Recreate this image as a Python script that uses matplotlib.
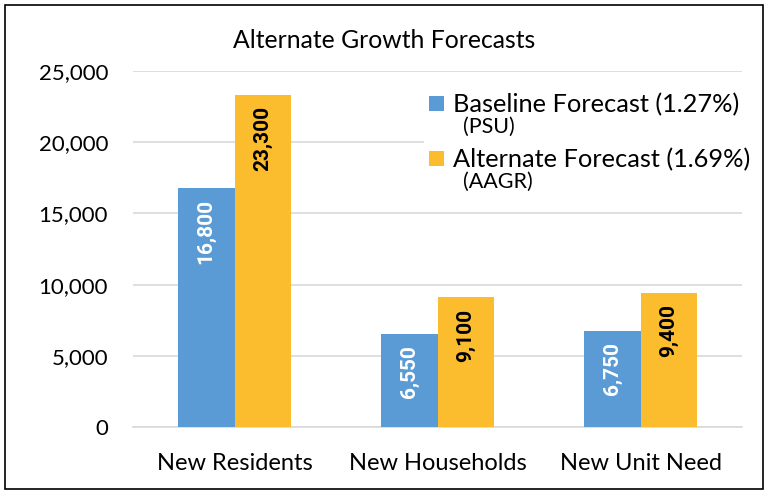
import matplotlib
matplotlib.use("Agg")
import matplotlib.pyplot as plt
from matplotlib.patches import Rectangle
from matplotlib.transforms import offset_copy
import numpy as np

categories = ["New Residents", "New Households", "New Unit Need"]
baseline = [16800, 6550, 6750]
alternate = [23300, 9100, 9400]
baseline_label = "Baseline Forecast (1.27%)"
baseline_sub = "(PSU)"
alternate_label = "Alternate Forecast (1.69%)"
alternate_sub = "(AAGR)"
title = "Alternate Growth Forecasts"

plt.rcParams['font.family'] = ['Lato', 'DejaVu Sans']

BLUE = "#5B9BD5"
GOLD = "#FBBC2D"

fig = plt.figure(figsize=(7.7, 4.97), dpi=100)
fig.patch.set_facecolor("white")
# outer border
fig.add_artist(Rectangle((5/770, 1-489/497), 758/770, 484/497, transform=fig.transFigure,
                         fill=False, edgecolor="black", linewidth=1.2))

ax = fig.add_axes([133/770, 1-427/497, (742-133)/770, (427-71)/497])
x = np.arange(len(categories))
w = 0.28
b1 = ax.bar(x - w/2, baseline, w, color=BLUE, label=baseline_label, zorder=3)
b2 = ax.bar(x + w/2, alternate, w, color=GOLD, label=alternate_label, zorder=3)

ax.set_xlim(-0.5, 2.5)
ax.set_ylim(0, 25000)
ax.set_yticks(np.arange(0, 25001, 5000))
ax.set_yticklabels([f"{v:,}" for v in range(0, 25001, 5000)], fontsize=16)
ax.set_xticks(x)
ax.set_xticklabels(categories, fontsize=17)
ax.tick_params(axis='both', length=0)
ax.tick_params(axis='y', pad=18)
ax.tick_params(axis='x', pad=19)
ax.grid(axis='y', color="#D9D9D9", linewidth=1.2, zorder=0)
for s in ["top", "right", "left"]:
    ax.spines[s].set_visible(False)
ax.spines["bottom"].set_color("#D9D9D9")
ax.spines["bottom"].set_linewidth(1.2)

trans = offset_copy(ax.transData, fig=fig, x=0, y=-11, units='dots')
for offs, vals, col in [(-w/2, baseline, "white"), (w/2, alternate, "black")]:
    for xi, v in zip(x, vals):
        ax.text(xi + offs, v, f"{v:,}", transform=trans, rotation=90, ha='center', va='top',
                color=col, fontsize=15, fontweight='bold',
                family=['Roboto', 'DejaVu Sans'], zorder=4)

fig.text(384/770, 1-40/497, title, ha='center', va='center', fontsize=17.8)

leg = ax.legend(loc='upper left', bbox_to_anchor=((424-133)/609, 1-(88-71)/356),
                frameon=True, fontsize=18.3, handlelength=0.58, handleheight=0.58,
                handletextpad=0.35, labelspacing=1.25, borderpad=0.2, borderaxespad=0)
leg.get_frame().set_edgecolor("none")
leg.get_frame().set_facecolor("white")
leg.get_frame().set_alpha(1)
leg.set_zorder(5)

fig.canvas.draw()
r = fig.canvas.get_renderer()
inv = fig.transFigure.inverted()
for t, sub in zip(leg.get_texts(), [baseline_sub, alternate_sub]):
    bb = t.get_window_extent(r)
    x0, y0 = inv.transform((bb.x0 + 10, bb.y0 - 16))
    fig.text(x0, y0, sub, ha='left', va='baseline', fontsize=15.5, zorder=6)

fig.savefig("out.png", dpi=100)
